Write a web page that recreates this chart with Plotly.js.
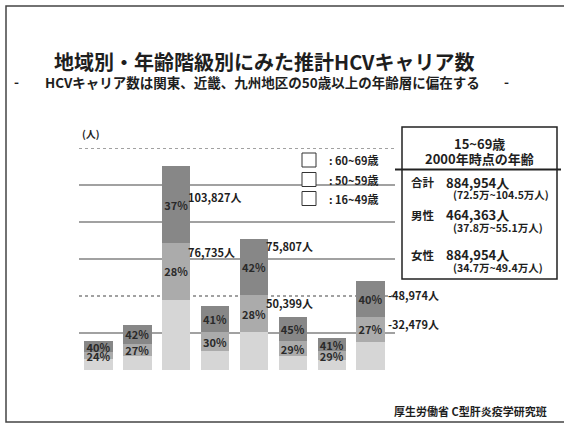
<!DOCTYPE html>
<html>
<head>
<meta charset="utf-8">
<script src="https://cdn.plot.ly/plotly-3.0.1.min.js"></script>
<style>html,body{margin:0;padding:0;background:#fff;}#chart{width:564px;height:424px;}</style>
</head>
<body>
<div id="chart"></div>
<script>
// ---- data ----
const regions = ['北海道','東北','関東','中部','近畿','中国','四国','九州'];
const age16_49 = [14300, 18900, 95000, 25100, 51000, 18600, 12900, 38500];
const age50_59 = [9500, 16400, 76735, 26100, 50399, 20800, 12400, 32479];
const age60_69 = [15800, 25500, 103827, 35700, 75807, 32200, 17500, 48974];
const pct50_59 = [24, 27, 28, 30, 28, 29, 29, 27];
const pct60_69 = [40, 42, 37, 41, 42, 45, 41, 40];
const gridVals = [50000, 100000, 150000, 200000, 250000, 300000];
const legendLabels = [': 60~69歳', ': 50~59歳', ': 16~49歳'];
const calloutIdx = [2, 2, 4, 4, 7, 7];
const calloutSeg = ['60', '50', '60', '50', '60', '50'];

// ---- layout helpers ----
const L = 79, R = 390, T = 148, B = 370;
const fx = p => (p - L) / (R - L);
const fy = p => (B - p) / (B - T);
const FONT = '"Noto Sans CJK JP", "Noto Sans", sans-serif';
const TXT = '#1e1e1e';

const cDark = '#878787', cMid = '#ababab', cLight = '#d6d6d6';

const traces = [
  {type: 'bar', x: regions, y: age16_49, name: '16~49歳', marker: {color: cLight}, hoverinfo: 'skip'},
  {type: 'bar', x: regions, y: age50_59, name: '50~59歳', marker: {color: cMid},
   text: pct50_59.map(v => v + '%'), textposition: 'inside', insidetextanchor: 'middle', textangle: 0,
   textfont: {family: FONT, size: 11, color: '#2a2a2a', weight: 'bold'}, hoverinfo: 'skip'},
  {type: 'bar', x: regions, y: age60_69, name: '60~69歳', marker: {color: cDark},
   text: pct60_69.map(v => v + '%'), textposition: 'inside', insidetextanchor: 'middle', textangle: 0,
   textfont: {family: FONT, size: 11, color: '#2a2a2a', weight: 'bold'}, hoverinfo: 'skip'}
];

const shapes = [];
const dashOf = v => (v === 300000 || v === 100000) ? 'dot' : 'solid';
gridVals.forEach(v => shapes.push({type: 'line', xref: 'paper', yref: 'y', x0: 0, x1: fx(395), y0: v, y1: v,
  layer: 'below', line: {color: '#444', width: 1.2, dash: dashOf(v)}}));
// slide frame
shapes.push({type: 'rect', xref: 'paper', yref: 'paper', x0: fx(6), x1: fx(570), y0: fy(422), y1: fy(6),
  line: {color: '#444', width: 1.5}});
// info box
shapes.push({type: 'rect', xref: 'paper', yref: 'paper', x0: fx(402), x1: fx(557), y0: fy(279), y1: fy(127),
  fillcolor: '#fff', line: {color: '#222', width: 1.5}});
shapes.push({type: 'line', xref: 'paper', yref: 'paper', x0: fx(395), x1: fx(561), y0: fy(169.5), y1: fy(169.5),
  line: {color: '#222', width: 2}});
// legend boxes
const legY = [160, 179.5, 198.5];
legY.forEach(y => shapes.push({type: 'rect', xref: 'paper', yref: 'paper', x0: fx(302), x1: fx(316),
  y0: fy(y + 7), y1: fy(y - 7), fillcolor: '#fff', line: {color: '#333', width: 1}}));

const ann = [];
const A = (x, y, text, size, anchor, extra) => ann.push(Object.assign({xref: 'paper', yref: 'paper',
  x: fx(x), y: fy(y), text: text, showarrow: false, xanchor: anchor || 'center', yanchor: 'middle',
  font: {family: FONT, size: size, color: TXT}}, extra || {}));

A(264, 61, '<b>地域別・年齢階級別にみた推計HCVキャリア数</b>', 20);
A(16, 81, '<b>-</b>', 13.5);
A(262, 82, '<b>HCVキャリア数は関東、近畿、九州地区の50歳以上の年齢層に偏在する</b>', 13.5);
A(506, 81, '<b>-</b>', 13.5);
A(80, 133, '<b>(人)</b>', 10, 'left');
A(549, 411, '<b>厚生労働省 C型肝炎疫学研究班</b>', 11, 'right');

legendLabels.forEach((t, i) => A(327, legY[i], '<b>' + t + '</b>', 11, 'left'));

// info box text
A(479, 143, '<b>15~69歳</b>', 13);
A(479, 158, '<b>2000年時点の年齢</b>', 13);
A(409, 182, '<b>合計</b>', 11.5, 'left');
A(444, 182, '<b>884,954人</b>', 13, 'left');
A(451, 194.5, '<b>(72.5万~104.5万人)</b>', 10.5, 'left');
A(409, 215, '<b>男性</b>', 11.5, 'left');
A(444, 214, '<b>464,363人</b>', 13, 'left');
A(451, 227, '<b>(37.8万~55.1万人)</b>', 10.5, 'left');
A(409, 255, '<b>女性</b>', 11.5, 'left');
A(444, 254, '<b>884,954人</b>', 13, 'left');
A(451, 267, '<b>(34.7万~49.4万人)</b>', 10.5, 'left');

// segment value call-outs (anchored to segment tops through the data axes)
const yshifts = [-31, -9.5, -7.5, -8.5, -14, -6.5];
const halfW = (1 - 0.27) / 2;
calloutIdx.forEach((i, k) => {
  const seg = calloutSeg[k];
  const val = seg === '60' ? age60_69[i] : age50_59[i];
  const top = seg === '60' ? age16_49[i] + age50_59[i] + age60_69[i] : age16_49[i] + age50_59[i];
  const lead = i === 7 ? '-' : '';
  ann.push({xref: 'x', yref: 'y', x: i + halfW, y: top, yshift: yshifts[k], xshift: i === 7 ? 1 : -4,
    xanchor: 'left', yanchor: 'middle', showarrow: false,
    text: '<b>' + lead + val.toLocaleString('en-US') + '人</b>',
    font: {family: FONT, size: 11, color: TXT}});
});

const layout = {
  width: 564, height: 424,
  margin: {l: L, r: 564 - R, t: T, b: 424 - B, pad: 0},
  paper_bgcolor: '#fff', plot_bgcolor: 'rgba(0,0,0,0)',
  barmode: 'stack', bargap: 0.27, showlegend: false,
  uniformtext: {mode: 'show', minsize: 11},
  xaxis: {type: 'category', range: [-0.5, 7.5], showticklabels: false, showgrid: false, zeroline: false,
    showline: false, ticks: ''},
  yaxis: {range: [0, 300000], showticklabels: false, showgrid: false, zeroline: false, showline: false, ticks: ''},
  shapes: shapes, annotations: ann,
  font: {family: FONT}
};

Plotly.newPlot('chart', traces, layout, {displayModeBar: false, staticPlot: true});
</script>
</body>
</html>
